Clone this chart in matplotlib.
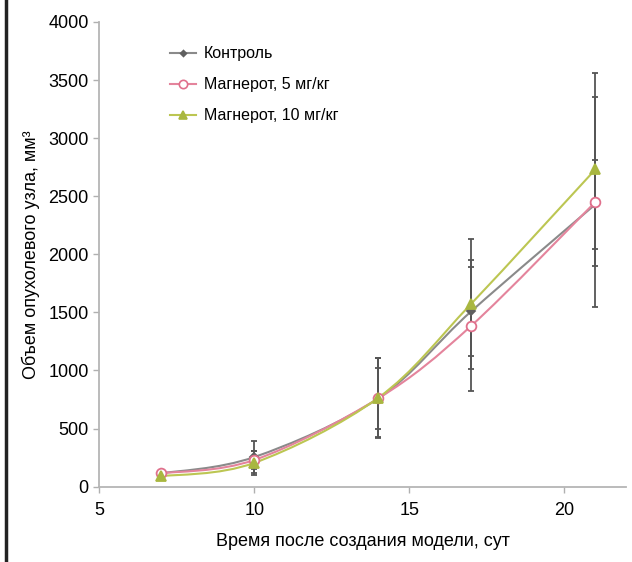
import matplotlib
matplotlib.use("Agg")
import matplotlib.pyplot as plt
from matplotlib.path import Path
from matplotlib.patches import PathPatch
from matplotlib.lines import Line2D

plt.rcParams["font.family"] = ["Liberation Sans", "DejaVu Sans"]

# data
days = [7, 10, 14, 17, 21]
control = [115, 255, 760, 1510, 2430]
control_err = [20, 135, 260, 385, 385]
magn5 = [115, 230, 760, 1385, 2450]
magn5_err = [15, 80, 345, 565, 900]
magn10 = [90, 205, 765, 1575, 2730]
magn10_err = [15, 105, 340, 558, 830]

labels = ["Контроль", "Магнерот, 5 мг/кг", "Магнерот, 10 мг/кг"]
xticks = [5, 10, 15, 20]
yticks = list(range(0, 4001, 500))


def smooth_path(x, y):
    # Excel-like smoothed line: Catmull-Rom segments as cubic Bezier curves
    verts = [(x[0], y[0])]
    codes = [Path.MOVETO]
    n = len(x)
    for i in range(n - 1):
        x0, y0 = (x[i - 1], y[i - 1]) if i > 0 else (x[i], y[i])
        x3, y3 = (x[i + 2], y[i + 2]) if i + 2 < n else (x[i + 1], y[i + 1])
        c1 = (x[i] + (x[i + 1] - x0) / 6, y[i] + (y[i + 1] - y0) / 6)
        c2 = (x[i + 1] - (x3 - x[i]) / 6, y[i + 1] - (y3 - y[i]) / 6)
        verts += [c1, c2, (x[i + 1], y[i + 1])]
        codes += [Path.CURVE4] * 3
    return Path(verts, codes)


fig = plt.figure(figsize=(6.32, 5.62), dpi=100)
ax = fig.add_axes([0.157, 0.134, 0.834, 0.827])

series = [
    (control, control_err, "#8a8a8a", "D", "#5f5f5f", "#5f5f5f", 4),
    (magn5, magn5_err, "#e4849c", "o", "white", "#e0708c", 7),
    (magn10, magn10_err, "#bcc652", "^", "#a9b740", "#a9b740", 7),
]

handles = []
for (vals, errs, col, mk, mfc, mec, ms), lab in zip(series, labels):
    ax.errorbar(days, vals, yerr=errs, fmt="none", ecolor="#555555",
                elinewidth=1.3, capsize=2.5, capthick=1.3, zorder=2)
    ax.add_patch(PathPatch(smooth_path(days, vals), facecolor="none",
                           edgecolor=col, lw=1.5, zorder=3))
    ax.plot(days, vals, ls="none", marker=mk, ms=ms, mfc=mfc, mec=mec,
            mew=1.3, zorder=4)
    handles.append(Line2D([], [], color=col, lw=1.5, marker=mk, ms=ms - 1,
                          mfc=mfc, mec=mec, mew=1.2))

ax.set_xlim(5, 22)
ax.set_ylim(0, 4000)
ax.set_xticks(xticks)
ax.set_yticks(yticks)
ax.tick_params(labelsize=13, color="#b0b0b0", length=4, width=1)
ax.tick_params(axis="x", pad=7)
for s in ["top", "right"]:
    ax.spines[s].set_visible(False)
for s in ["left", "bottom"]:
    ax.spines[s].set_color("#b5b5b5")
    ax.spines[s].set_linewidth(1.3)

ax.set_xlabel("Время после создания модели, сут", fontsize=13, labelpad=10)
ax.set_ylabel("Объем опухолевого узла, мм³", fontsize=13, labelpad=6)

ax.legend(handles, labels, loc="upper left", bbox_to_anchor=(0.12, 0.965),
          frameon=False, fontsize=11.5, handlelength=1.6, handletextpad=0.5,
          labelspacing=1.0, borderpad=0)

# black border line on the left edge of the picture
fig.add_artist(Line2D([0.009, 0.009], [0, 1], transform=fig.transFigure,
                      color="#222222", lw=2.5))

fig.savefig("out.png", dpi=100)
